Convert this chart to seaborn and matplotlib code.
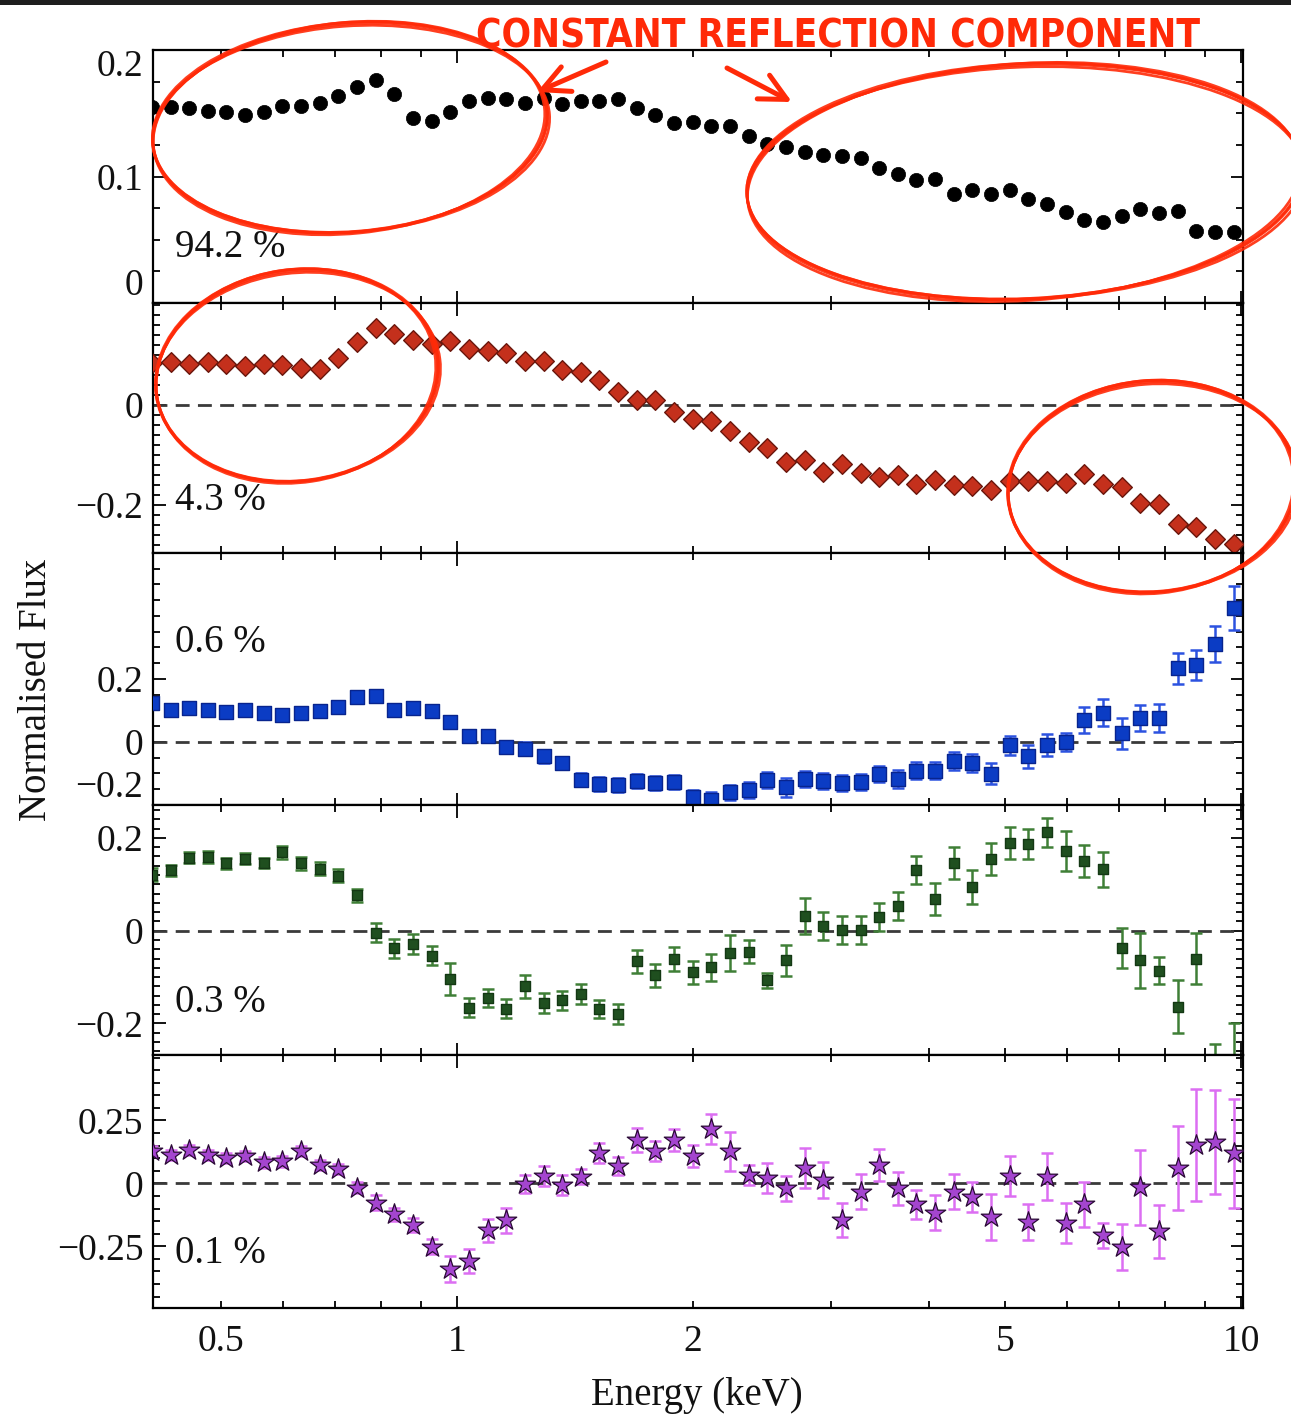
import matplotlib
matplotlib.use("Agg")
import matplotlib.pyplot as plt
import numpy as np
import pandas as pd
import seaborn as sns
from matplotlib import ticker, font_manager
from matplotlib import transforms as mtransforms
from matplotlib.patches import Ellipse, FancyArrowPatch, Rectangle

# ---------------------------------------------------------------- data
energy = [0.4088, 0.4318, 0.4560, 0.4817, 0.5087, 0.5374, 0.5676, 0.5995, 0.6332, 0.6688,
          0.7065, 0.7464, 0.7884, 0.8327, 0.8797, 0.9292, 0.9815, 1.0368, 1.0951, 1.1567,
          1.2218, 1.2906, 1.3632, 1.4400, 1.5208, 1.6064, 1.6969, 1.7924, 1.8931, 2.0000,
          2.1125, 2.2315, 2.3571, 2.4898, 2.6300, 2.7781, 2.9343, 3.0995, 3.2734, 3.4577,
          3.6516, 3.8572, 4.0745, 4.3041, 4.5457, 4.8018, 5.0722, 5.3580, 5.6585, 5.9774,
          6.3139, 6.6699, 7.0438, 7.4405, 7.8595, 8.3022, 8.7680, 9.2621, 9.7836]

flux_942 = [0.155, 0.155, 0.154, 0.152, 0.151, 0.149, 0.151, 0.156, 0.156, 0.158,
            0.164, 0.171, 0.176, 0.165, 0.146, 0.144, 0.151, 0.160, 0.162, 0.161,
            0.158, 0.162, 0.157, 0.160, 0.160, 0.161, 0.154, 0.149, 0.142, 0.143,
            0.140, 0.140, 0.132, 0.126, 0.123, 0.119, 0.117, 0.116, 0.115, 0.107,
            0.102, 0.097, 0.098, 0.086, 0.089, 0.086, 0.089, 0.082, 0.078, 0.072,
            0.066, 0.064, 0.069, 0.074, 0.071, 0.073, 0.057, 0.056, 0.056]

flux_43 = [0.085, 0.087, 0.083, 0.087, 0.083, 0.078, 0.083, 0.080, 0.075, 0.072,
           0.095, 0.127, 0.155, 0.143, 0.130, 0.123, 0.129, 0.113, 0.108, 0.105,
           0.088, 0.088, 0.070, 0.067, 0.050, 0.027, 0.010, 0.011, -0.013, -0.027,
           -0.031, -0.051, -0.073, -0.085, -0.113, -0.110, -0.133, -0.117, -0.135, -0.143,
           -0.140, -0.157, -0.149, -0.160, -0.162, -0.170, -0.152, -0.151, -0.151, -0.155,
           -0.137, -0.157, -0.163, -0.195, -0.198, -0.237, -0.243, -0.267, -0.277]

flux_06 = [0.123, 0.103, 0.107, 0.101, 0.094, 0.101, 0.091, 0.085, 0.093, 0.098,
           0.112, 0.144, 0.147, 0.103, 0.107, 0.098, 0.064, 0.019, 0.019, -0.016,
           -0.021, -0.046, -0.067, -0.120, -0.133, -0.136, -0.123, -0.130, -0.126, -0.176,
           -0.183, -0.160, -0.152, -0.120, -0.144, -0.117, -0.123, -0.130, -0.126, -0.101,
           -0.117, -0.091, -0.091, -0.061, -0.066, -0.101, -0.011, -0.046, -0.011, 0.000,
           0.069, 0.093, 0.027, 0.077, 0.077, 0.234, 0.245, 0.311, 0.426]
err_06 = [0.015, 0.015, 0.015, 0.015, 0.015, 0.015, 0.015, 0.015, 0.015, 0.015,
          0.015, 0.016, 0.016, 0.016, 0.016, 0.016, 0.018, 0.018, 0.018, 0.020,
          0.020, 0.020, 0.020, 0.020, 0.022, 0.022, 0.022, 0.022, 0.022, 0.024,
          0.024, 0.024, 0.025, 0.025, 0.030, 0.025, 0.026, 0.025, 0.025, 0.026,
          0.028, 0.028, 0.028, 0.028, 0.028, 0.033, 0.030, 0.035, 0.035, 0.030,
          0.042, 0.042, 0.049, 0.042, 0.045, 0.050, 0.048, 0.057, 0.070]

flux_03 = [0.121, 0.130, 0.157, 0.159, 0.145, 0.155, 0.146, 0.169, 0.145, 0.134,
           0.118, 0.076, -0.004, -0.038, -0.029, -0.054, -0.104, -0.166, -0.145, -0.168,
           -0.120, -0.156, -0.150, -0.136, -0.169, -0.179, -0.066, -0.096, -0.061, -0.090,
           -0.079, -0.048, -0.045, -0.107, -0.064, 0.032, 0.011, 0.002, 0.001, 0.029,
           0.054, 0.131, 0.068, 0.146, 0.094, 0.155, 0.189, 0.187, 0.212, 0.171,
           0.150, 0.132, -0.038, -0.064, -0.086, -0.164, -0.061, -0.320, -0.300]
err_03 = [0.014, 0.012, 0.012, 0.012, 0.012, 0.012, 0.010, 0.014, 0.014, 0.014,
          0.014, 0.014, 0.020, 0.020, 0.022, 0.020, 0.035, 0.020, 0.020, 0.020,
          0.025, 0.022, 0.020, 0.022, 0.020, 0.022, 0.025, 0.025, 0.025, 0.025,
          0.029, 0.039, 0.025, 0.016, 0.033, 0.039, 0.030, 0.030, 0.030, 0.030,
          0.030, 0.030, 0.035, 0.035, 0.037, 0.035, 0.035, 0.032, 0.032, 0.043,
          0.035, 0.038, 0.043, 0.060, 0.030, 0.057, 0.055, 0.075, 0.100]

flux_01 = [0.127, 0.113, 0.133, 0.113, 0.100, 0.107, 0.083, 0.087, 0.127, 0.073,
           0.056, -0.017, -0.076, -0.123, -0.167, -0.251, -0.340, -0.309, -0.187, -0.147,
           -0.003, 0.029, -0.007, 0.027, 0.120, 0.069, 0.173, 0.127, 0.173, 0.109,
           0.217, 0.127, 0.033, 0.020, -0.020, 0.060, 0.013, -0.144, -0.033, 0.073,
           -0.020, -0.083, -0.116, -0.033, -0.053, -0.133, 0.029, -0.153, 0.027, -0.157,
           -0.083, -0.207, -0.253, -0.016, -0.191, 0.060, 0.153, 0.163, 0.120]
err_01 = [0.020, 0.020, 0.020, 0.020, 0.020, 0.020, 0.020, 0.020, 0.020, 0.020,
          0.020, 0.022, 0.030, 0.025, 0.028, 0.030, 0.050, 0.047, 0.045, 0.050,
          0.035, 0.040, 0.040, 0.030, 0.040, 0.035, 0.047, 0.040, 0.045, 0.045,
          0.060, 0.077, 0.040, 0.060, 0.050, 0.080, 0.070, 0.067, 0.070, 0.065,
          0.065, 0.057, 0.070, 0.070, 0.060, 0.090, 0.080, 0.070, 0.093, 0.080,
          0.090, 0.050, 0.093, 0.150, 0.107, 0.167, 0.223, 0.207, 0.217]

fractions = ["94.2 %", "4.3 %", "0.6 %", "0.3 %", "0.1 %"]
x_ticks_labelled = [0.5, 1, 2, 5, 10]
title_text = "CONSTANT REFLECTION COMPONENT"

# ---------------------------------------------------------------- style
sns.set_theme(style="ticks")
plt.rcParams["font.family"] = ["Liberation Serif", "DejaVu Serif"]
plt.rcParams["axes.unicode_minus"] = True

W, H = 1291, 1419
fig = plt.figure(figsize=(W / 100, H / 100), dpi=100)
fig.patch.set_facecolor("white")

panels = [
    dict(y=flux_942, err=None, marker="o", s=105, face="#000000", edge="#000000", elw=0.5,
         ecol=None, ylim=(0.0, 0.2), yt=[0.0, 0.1, 0.2], minor=0.025, zero=False, ty=0.221),
    dict(y=flux_43, err=None, marker="D", s=100, face="#c4301c", edge="#6a160c", elw=1.0,
         ecol=None, ylim=(-0.296, 0.204), yt=[-0.2, 0.0], minor=0.02, zero=True, ty=0.212),
    dict(y=flux_06, err=err_06, marker="s", s=100, face="#0b3cc4", edge="#08248e", elw=1.0,
         ecol="#2c52e0", ylim=(-0.2, 0.6), yt=[-0.2, 0.0, 0.2], minor=0.05, zero=True, ty=0.643),
    dict(y=flux_03, err=err_03, marker="s", s=55, face="#1f4f1f", edge="#143814", elw=1.0,
         ecol="#3f7f36", ylim=(-0.268, 0.271), yt=[-0.2, 0.0, 0.2], minor=0.02, zero=True, ty=0.212),
    dict(y=flux_01, err=err_01, marker="*", s=240, face="#a445cf", edge="#2a0a35", elw=0.9,
         ecol="#dc6ef2", ylim=(-0.495, 0.51), yt=[-0.25, 0.0, 0.25], minor=0.05, zero=True, ty=0.217),
]

edges_px = [50, 303, 553, 805, 1055, 1308]
left, right = 153 / W, 1243 / W


def ylab(v, _pos=None):
    if abs(v) < 1e-12:
        return "0"
    return f"{v:g}".replace("-", "\u2212")


axes = []
for k, p in enumerate(panels):
    top_px, bot_px = edges_px[k], edges_px[k + 1]
    ax = fig.add_axes([left, 1 - bot_px / H, right - left, (bot_px - top_px) / H],
                      sharex=axes[0] if axes else None)
    axes.append(ax)
    ax.set_xscale("log")
    ax.set_facecolor("white")

    df = pd.DataFrame({"energy": energy, "flux": p["y"]})
    if p["zero"]:
        ax.axhline(0, color="#3a3a3a", lw=2.0, ls=(0, (5, 3)), zorder=1)
    if p["err"] is not None:
        ax.errorbar(energy, p["y"], yerr=p["err"], fmt="none", ecolor=p["ecol"],
                    elinewidth=1.8, capsize=4.5, capthick=1.8, zorder=2)
    sns.scatterplot(data=df, x="energy", y="flux", ax=ax, marker=p["marker"], s=p["s"],
                    color=p["face"], edgecolor=p["edge"], linewidth=p["elw"],
                    zorder=3, legend=False)

    ax.set_ylim(*p["ylim"])
    ax.set_yticks(p["yt"])
    ax.yaxis.set_major_formatter(ticker.FuncFormatter(ylab))
    ax.yaxis.set_minor_locator(ticker.MultipleLocator(p["minor"]))
    ax.set_xlabel("")
    ax.set_ylabel("")

    for sp in ax.spines.values():
        sp.set_linewidth(1.6)
        sp.set_color("black")
    ax.tick_params(axis="both", which="both", direction="in", top=True, right=True,
                   width=1.3, color="black", labelcolor="#111111")
    ax.tick_params(which="major", length=9)
    ax.tick_params(which="minor", length=5)
    ax.tick_params(axis="y", which="both", labelsize=27, pad=7)
    ax.tick_params(axis="x", which="both", labelsize=27, pad=12)
    if k < 4:
        ax.tick_params(axis="x", which="both", labelbottom=False)

    ax.text(0.02, p["ty"], fractions[k], transform=ax.transAxes, fontsize=28,
            ha="left", va="center", color="#111111")

axes[0].set_xlim(0.41, 10.06)
axes[0].xaxis.set_major_locator(ticker.FixedLocator([1, 10]))
axes[0].xaxis.set_minor_locator(ticker.FixedLocator(
    [0.5, 0.6, 0.7, 0.8, 0.9, 2, 3, 4, 5, 6, 7, 8, 9]))
axes[0].xaxis.set_major_formatter(ticker.FuncFormatter(lambda v, _p: f"{v:g}"))
axes[0].xaxis.set_minor_formatter(ticker.FuncFormatter(
    lambda v, _p: f"{v:g}" if any(abs(v - t) < 1e-9 for t in x_ticks_labelled) else ""))

# keep labels that sit on a panel edge inside the panel
for ax, p in zip(axes, panels):
    lo, hi = ax.get_ylim()
    for tk, v in zip(ax.yaxis.get_major_ticks(), ax.get_yticks()):
        if abs(v - hi) < 0.006:
            tk.label1.set_verticalalignment("top")
        elif abs(v - lo) < 0.006:
            tk.label1.set_verticalalignment("bottom")

fig.text(37 / W, 1 - 690 / H, "Normalised Flux", rotation=90, ha="center", va="center",
         fontsize=28, color="#111111")
fig.text(697 / W, 1 - 1395 / H, "Energy (keV)", ha="center", va="center", fontsize=28,
         color="#111111")

# ---------------------------------------------------------------- red highlights
RED = "#ff2a08"
px = mtransforms.Affine2D().scale(1 / W, -1 / H).translate(0, 1) + fig.transFigure

fig.patches.append(Rectangle((0, 0), W, 5, transform=px, facecolor="#1e1e1e",
                             edgecolor="none"))

rings = [
    (350, 128, 395, 208, -5),
    (1025, 182, 556, 234, -3),
    (297, 376, 283, 210, -8),
    (1152, 487, 288, 210, -5),
]
# a few slightly different passes give the hand-drawn marker look
strokes = [(0, 0, 0, 0, 0.0), (1, 1, 3, -2, 0.8), (-1, 0, -2, 3, -0.7), (0, -1, 1, 1, 0.4)]
for cx, cy, w, h, a in rings:
    for dx, dy, dw, dh, da in strokes:
        fig.patches.append(Ellipse((cx + dx, cy + dy), w + dw, h + dh, angle=a + da,
                                   transform=px, fill=False, edgecolor=RED, lw=2.0,
                                   alpha=0.9))

for tail, head in [((606, 62), (537, 92)), ((727, 68), (792, 102))]:
    fig.patches.append(FancyArrowPatch(tail, head, transform=px, arrowstyle="->",
                                       mutation_scale=48, lw=3.6, color=RED,
                                       shrinkA=0, shrinkB=0))

avail = {f.name for f in font_manager.fontManager.ttflist}
if "Liberation Sans Narrow" in avail:
    title_kw = dict(family="Liberation Sans Narrow")
else:
    title_kw = dict(family="DejaVu Sans", fontstretch="condensed")
title = fig.text(838.5 / W, 1 - 47 / H, title_text, ha="center", va="baseline",
                 color=RED, fontweight="bold", fontsize=30, **title_kw)
fig.canvas.draw()
bw = title.get_window_extent().width
title.set_fontsize(30 * 723 / bw)

fig.savefig("out.png", dpi=100, facecolor="white")
